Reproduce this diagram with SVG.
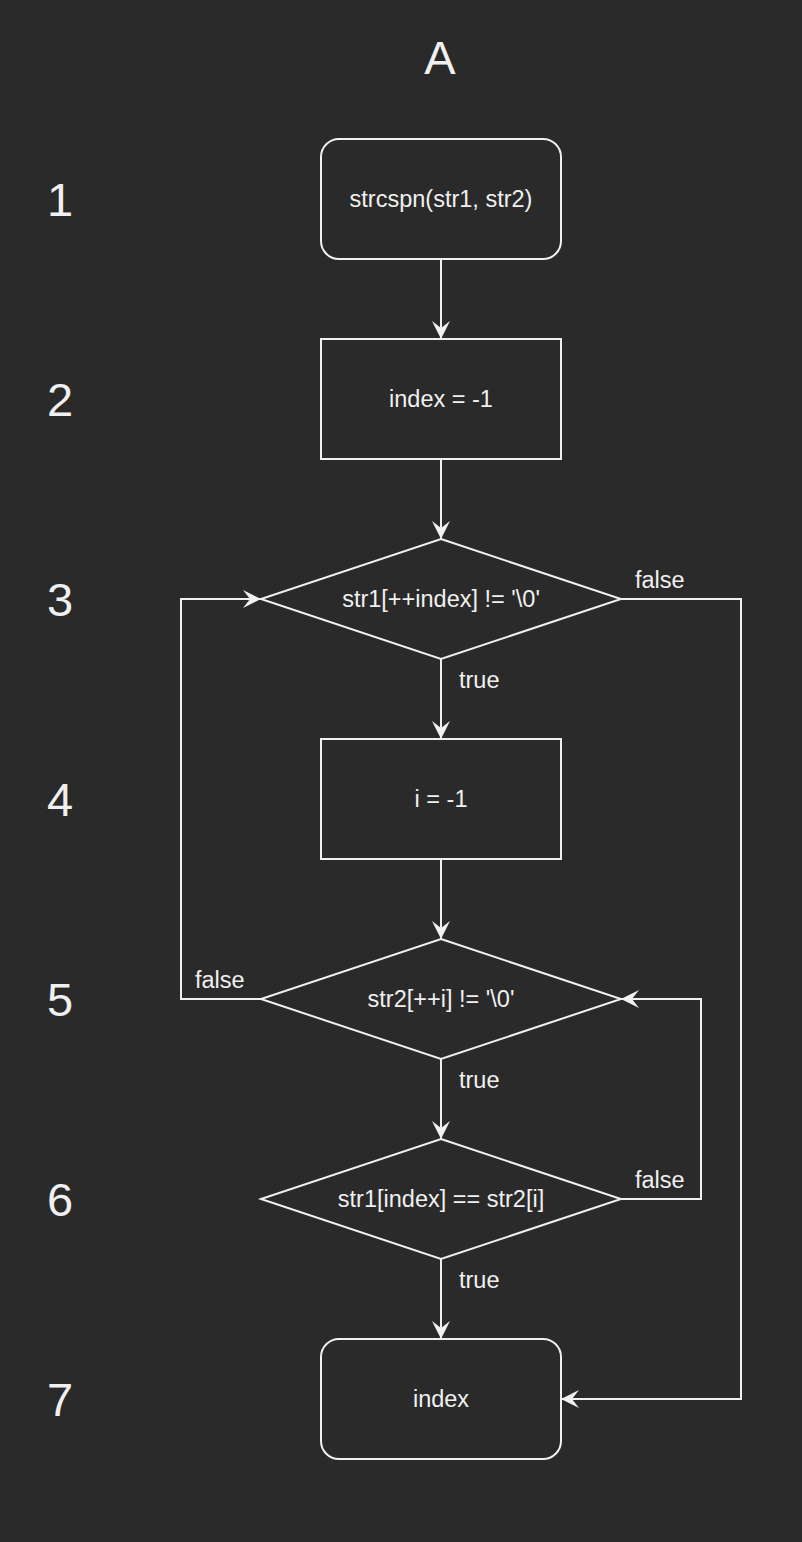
<svg xmlns="http://www.w3.org/2000/svg" width="802" height="1542" viewBox="0 0 802 1542">
<style>
.bg{fill:#2a2a2a}
.n{fill:#2a2a2a;stroke:#f0f0f0;stroke-width:2}
.t{fill:#f0f0f0;font-family:"Liberation Sans",Arial,sans-serif;font-size:23.5px;text-anchor:middle}
.lb{fill:#f0f0f0;font-family:"Liberation Sans",Arial,sans-serif;font-size:23.5px}
.big{fill:#f0f0f0;font-family:"Liberation Sans",Arial,sans-serif;font-size:47px;text-anchor:middle}
.e{fill:none;stroke:#f0f0f0;stroke-width:2}
</style>
<defs>
<marker id="arr" markerUnits="userSpaceOnUse" viewBox="0 0 18 18" refX="18" refY="9" markerWidth="18" markerHeight="18" orient="auto">
<path d="M18,9 L0,0 L7,9 L0,18 Z" fill="#f0f0f0"/>
</marker>
</defs>
<rect class="bg" x="0" y="0" width="802" height="1542"/>
<g id="rowlabels">
<text class="big" x="440" y="74">A</text>
<text class="big" x="60" y="216">1</text>
<text class="big" x="60" y="416">2</text>
<text class="big" x="60" y="616">3</text>
<text class="big" x="60" y="816">4</text>
<text class="big" x="60" y="1016">5</text>
<text class="big" x="60" y="1216">6</text>
<text class="big" x="60" y="1416">7</text>
</g>
<g id="connectors">
<path class="e" d="M441,259 L441,339" marker-end="url(#arr)"/>
<path class="e" d="M441,459 L441,539" marker-end="url(#arr)"/>
<path class="e" d="M441,659 L441,739" marker-end="url(#arr)"/>
<path class="e" d="M621,599 L741,599 L741,1399 L561,1399" marker-end="url(#arr)"/>
<path class="e" d="M441,859 L441,939" marker-end="url(#arr)"/>
<path class="e" d="M261,999 L181,999 L181,599 L261,599" marker-end="url(#arr)"/>
<path class="e" d="M441,1059 L441,1139" marker-end="url(#arr)"/>
<path class="e" d="M621,1199 L701,1199 L701,999 L621,999" marker-end="url(#arr)"/>
<path class="e" d="M441,1259 L441,1339" marker-end="url(#arr)"/>
<text class="lb" x="459" y="688">true</text>
<text class="lb" x="635" y="588">false</text>
<text class="lb" x="195" y="988">false</text>
<text class="lb" x="459" y="1088">true</text>
<text class="lb" x="635" y="1188">false</text>
<text class="lb" x="459" y="1288">true</text>
</g>
<g id="n1">
<rect class="n" x="321" y="139" width="240" height="120" rx="18" ry="18"/>
<text class="t" x="441" y="207">strcspn(str1, str2)</text>
</g>
<g id="n2">
<rect class="n" x="321" y="339" width="240" height="120"/>
<text class="t" x="441" y="407">index = -1</text>
</g>
<g id="n3">
<polygon class="n" points="441,539 621,599 441,659 261,599"/>
<text class="t" x="441" y="607">str1[++index] != '\0'</text>
</g>
<g id="n4">
<rect class="n" x="321" y="739" width="240" height="120"/>
<text class="t" x="441" y="807">i = -1</text>
</g>
<g id="n5">
<polygon class="n" points="441,939 621,999 441,1059 261,999"/>
<text class="t" x="441" y="1007">str2[++i] != '\0'</text>
</g>
<g id="n6">
<polygon class="n" points="441,1139 621,1199 441,1259 261,1199"/>
<text class="t" x="441" y="1207">str1[index] == str2[i]</text>
</g>
<g id="n7">
<rect class="n" x="321" y="1339" width="240" height="120" rx="18" ry="18"/>
<text class="t" x="441" y="1407">index</text>
</g>
</svg>
